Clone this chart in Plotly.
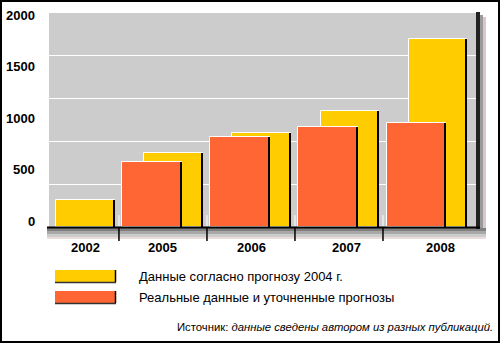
import plotly.graph_objects as go

years = ['2002', '2005', '2006', '2007', '2008']
forecast_2004 = [250, 690, 880, 1080, 1760]
actual_refined = [None, 610, 840, 930, 970]
y_ticks = [0, 500, 1000, 1500, 2000]
legend_labels = ['Данные согласно прогнозу 2004 г.', 'Реальные данные и уточненные прогнозы']
source_text = 'Источник: <i>данные сведены автором из разных публикаций.</i>'

YELLOW = '#ffcc00'
RED = '#ff6633'
W, H = 500, 343
L, R, T, B = 49, 476, 13, 227


def px(x):
    return (x - L) / (R - L)


def py(y):
    return (B - y) / (B - T)


fig = go.Figure()
edge = 0.025
y_off, y_w = -0.21, 0.67
r_off, r_w = -0.46, 0.68
fig.add_bar(x=years, y=forecast_2004, offset=y_off, width=y_w,
            marker=dict(color=YELLOW, line=dict(color='white', width=1)))
fig.add_bar(x=years, y=forecast_2004, offset=y_off + y_w - edge, width=edge,
            marker=dict(color='black', line=dict(width=0)))
fig.add_bar(x=years, y=actual_refined, offset=r_off, width=r_w,
            marker=dict(color=RED, line=dict(color='white', width=1)))
fig.add_bar(x=years, y=actual_refined, offset=r_off + r_w - edge, width=edge,
            marker=dict(color='black', line=dict(width=0)))

shapes = []
# right 3D edge and shadows
shapes.append(dict(type='rect', xref='paper', yref='paper', x0=px(480), x1=px(483), y0=py(233), y1=py(15),
                   fillcolor='#9a9a9a', line_width=0, layer='below'))
shapes.append(dict(type='rect', xref='paper', yref='paper', x0=px(483), x1=px(486), y0=py(236), y1=py(17),
                   fillcolor='#d8c8c8', line_width=0, layer='below'))
shapes.append(dict(type='rect', xref='paper', yref='paper', x0=px(476), x1=px(480), y0=py(229), y1=py(12),
                   fillcolor='#222222', line_width=0))
# shadow under baseline
for (a, b, c) in [(228, 231, '#808080'), (231, 234, '#a8a8a8'), (234, 237, '#cccccc'), (237, 239, '#ecdcdc')]:
    shapes.append(dict(type='rect', xref='paper', yref='paper', x0=px(47), x1=px(486), y0=py(b), y1=py(a),
                       fillcolor=c, line_width=0, layer='below'))
# baseline
shapes.append(dict(type='line', xref='paper', yref='paper', x0=px(47), x1=px(480), y0=py(227.5), y1=py(227.5),
                   line=dict(color='black', width=2)))
# category dividers
for i in range(len(years) - 1):
    shapes.append(dict(type='line', xref='x', yref='paper', x0=i + 0.5, x1=i + 0.5, y0=py(228), y1=py(241),
                       line=dict(color='black', width=1.5)))
    shapes.append(dict(type='line', xref='x', yref='paper', x0=i + 0.5, x1=i + 0.5, y0=py(215), y1=py(226),
                       line=dict(color='white', width=1)))
# legend swatches
for k, (col, yt) in enumerate([(YELLOW, 270), (RED, 291)]):
    shapes.append(dict(type='rect', xref='paper', yref='paper', x0=px(55), x1=px(115), y0=py(yt + 12), y1=py(yt),
                       fillcolor=col, line_width=0))
    shapes.append(dict(type='line', xref='paper', yref='paper', x0=px(115.5), x1=px(115.5), y0=py(yt + 12), y1=py(yt),
                       line=dict(color='black', width=1.5)))
    shapes.append(dict(type='line', xref='paper', yref='paper', x0=px(55), x1=px(116), y0=py(yt + 12.5), y1=py(yt + 12.5),
                       line=dict(color='#333333', width=1.5)))
# outer frame
shapes.append(dict(type='rect', xref='paper', yref='paper', x0=px(1), x1=px(499), y0=py(342), y1=py(1),
                   line=dict(color='black', width=2), fillcolor='rgba(0,0,0,0)'))

annotations = []
# y tick labels (the printed scale is slightly compressed relative to the bars)
for v in y_ticks:
    annotations.append(dict(x=px(37), y=v, xref='paper', yref='y', text=f'<b>{v}</b>', showarrow=False,
                            yshift=6 - v * 8 / 2000, xanchor='right', yanchor='middle',
                            font=dict(family='Arial', size=13, color='black')))
label_shift = [11, 0, 1, 8, 14]
for i, yr in enumerate(years):
    annotations.append(dict(x=i, y=py(247), xref='x', yref='paper', text=f'<b>{yr}</b>', showarrow=False,
                            xshift=label_shift[i], font=dict(family='Arial', size=13, color='black'),
                            xanchor='center', yanchor='middle'))
for lab, yc in zip(legend_labels, [276, 297]):
    annotations.append(dict(x=px(137), y=py(yc), xref='paper', yref='paper', text=lab, showarrow=False,
                            xanchor='left', yanchor='middle', font=dict(family='Arial', size=13, color='black')))
annotations.append(dict(x=px(495), y=py(327), xref='paper', yref='paper', text=source_text, showarrow=False,
                        xanchor='right', yanchor='middle', font=dict(family='Arial', size=11.3, color='black')))

fig.update_layout(
    width=W, height=H,
    margin=dict(l=L, r=W - R, t=T, b=H - B, pad=0, autoexpand=False),
    paper_bgcolor='white', plot_bgcolor='#cccccc',
    barmode='overlay', bargap=0, showlegend=False,
    shapes=shapes, annotations=annotations,
    xaxis=dict(type='category', range=[-0.295, 4.557], showticklabels=False, showgrid=False,
               zeroline=False, ticks='', fixedrange=True, automargin=False),
    yaxis=dict(range=[0, 2000], showticklabels=False,
               showgrid=False, zeroline=False, ticks='', automargin=False,
               minor=dict(dtick=400, showgrid=True, gridcolor='white', gridwidth=1.2, ticks='')),
)
fig.write_html('out.html')
